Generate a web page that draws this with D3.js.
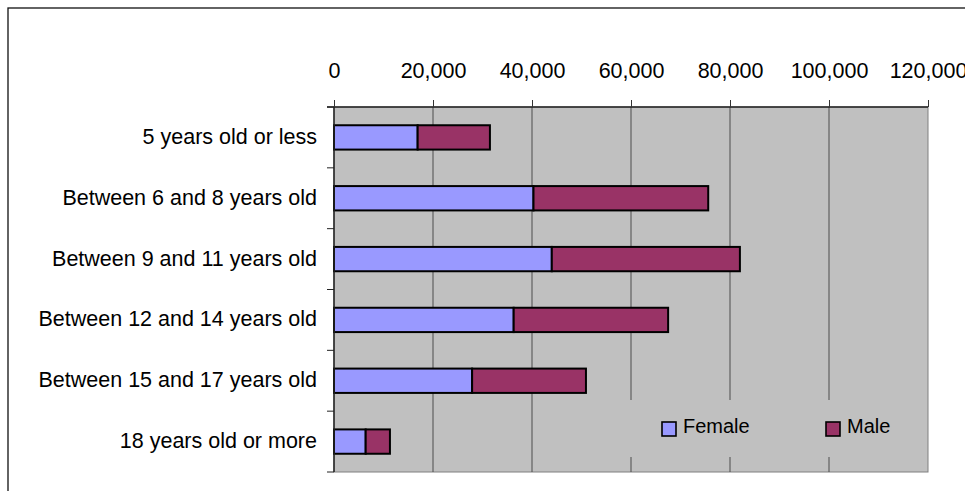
<!DOCTYPE html>
<html>
<head>
<meta charset="utf-8">
<script src="https://cdn.jsdelivr.net/npm/d3@7"></script>
<style>
  body { margin: 0; background: #fff; }
  text { font-family: "Liberation Sans", Arial, sans-serif; fill: #000; }
</style>
</head>
<body>
<svg id="viz"></svg>
<script>
var width = 965;
var height = 491;

var categories = [
    "5 years old or less",
    "Between 6 and 8 years old",
    "Between 9 and 11 years old",
    "Between 12 and 14 years old",
    "Between 15 and 17 years old",
    "18 years old or more"
];
var female = [16900, 40300, 44000, 36300, 27900, 6400];
var male = [14600, 35300, 38000, 31200, 23000, 4900];
var seriesNames = ["Female", "Male"];
var seriesColors = ["#9999ff", "#993366"];
var xTicks = [0, 20000, 40000, 60000, 80000, 100000, 120000];

var plot = {left: 334, top: 107, right: 928, bottom: 472};

var rows = categories.map(function(c, i) {
    return {cat: c, Female: female[i], Male: male[i]};
});

var svg = d3.select("#viz").attr("width", width).attr("height", height);

// chart frame, runs off the right and bottom of the picture
svg.append("rect")
    .attr("x", 8).attr("y", 8)
    .attr("width", 1000).attr("height", 600)
    .style("fill", "none")
    .style("stroke", "#111")
    .style("stroke-width", 1.3);

var x = d3.scaleLinear().domain([0, 120000]).range([plot.left, plot.right]);
var y = d3.scaleBand().domain(categories).range([plot.top, plot.bottom])
    .paddingInner(0.6).paddingOuter(0.3);
var color = d3.scaleOrdinal().domain(seriesNames).range(seriesColors);

svg.append("rect")
    .attr("x", plot.left).attr("y", plot.top)
    .attr("width", plot.right - plot.left).attr("height", plot.bottom - plot.top)
    .style("fill", "#c0c0c0")
    .style("stroke", "#808080")
    .style("stroke-width", 1);

svg.append("g").selectAll("line")
    .data(xTicks.slice(1, -1))
    .enter().append("line")
    .attr("x1", function(d) { return x(d); })
    .attr("x2", function(d) { return x(d); })
    .attr("y1", plot.top).attr("y2", plot.bottom)
    .style("stroke", "#4d4d4d")
    .style("stroke-width", 1);

// legend box hides the gridlines behind it
var legend = svg.append("g");
legend.append("rect")
    .attr("x", 628).attr("y", 400)
    .attr("width", 290).attr("height", 57)
    .style("fill", "#c0c0c0");
var legendX = [662, 826];
seriesNames.forEach(function(s, i) {
    legend.append("rect")
        .attr("x", legendX[i]).attr("y", 422)
        .attr("width", 14).attr("height", 14)
        .style("fill", color(s))
        .style("stroke", "#000")
        .style("stroke-width", 1.6);
    legend.append("text")
        .attr("x", legendX[i] + 21).attr("y", 433)
        .style("font-size", "20px")
        .text(s);
});

var stack = d3.stack().keys(seriesNames)(rows);

svg.append("g").selectAll("g")
    .data(stack)
    .enter().append("g")
    .style("fill", function(d) { return color(d.key); })
    .selectAll("rect")
    .data(function(d) { return d; })
    .enter().append("rect")
    .attr("x", function(d) { return x(d[0]); })
    .attr("y", function(d) { return y(d.data.cat); })
    .attr("width", function(d) { return x(d[1]) - x(d[0]); })
    .attr("height", y.bandwidth())
    .style("stroke", "#000")
    .style("stroke-width", 2);

var xAxis = svg.append("g")
    .attr("transform", "translate(0," + plot.top + ")")
    .call(d3.axisTop(x).tickValues(xTicks).tickFormat(d3.format(",")).tickSize(7).tickPadding(22).tickSizeOuter(0));
xAxis.select(".domain").attr("d", "M" + (plot.left - 7) + ",0H" + plot.right).style("stroke", "#222").style("stroke-width", 1.5);
xAxis.selectAll(".tick line").style("stroke", "#333");
xAxis.selectAll("text").style("font-size", "21.5px").style("font-family", "Liberation Sans, Arial, sans-serif").attr("fill", "#000");

// category axis, ticks sit between the bands
var bounds = d3.range(categories.length + 1).map(function(i) { return plot.top + i * y.step(); });
svg.append("line")
    .attr("x1", plot.left).attr("x2", plot.left)
    .attr("y1", plot.top).attr("y2", plot.bottom)
    .style("stroke", "#222").style("stroke-width", 1.5);
svg.append("g").selectAll("line")
    .data(bounds)
    .enter().append("line")
    .attr("x1", plot.left - 7).attr("x2", plot.left)
    .attr("y1", function(d) { return d; }).attr("y2", function(d) { return d; })
    .style("stroke", "#222");
svg.append("g").selectAll("text")
    .data(categories)
    .enter().append("text")
    .attr("x", plot.left - 17)
    .attr("y", function(d) { return y(d) + y.bandwidth() / 2; })
    .attr("dy", "0.3em")
    .attr("text-anchor", "end")
    .style("font-size", "21.5px")
    .text(function(d) { return d; });
</script>
</body>
</html>
